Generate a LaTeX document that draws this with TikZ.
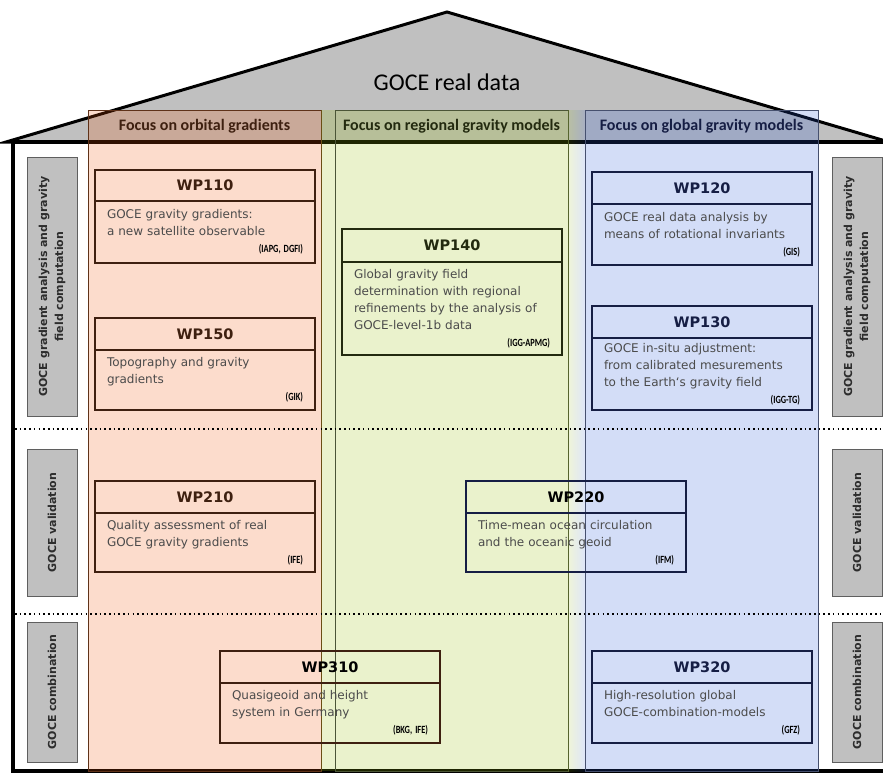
\documentclass[tikz,border=0pt]{standalone}
\usepackage{fontspec}
\setmainfont{DejaVu Sans}
\newfontfamily\carlito{Carlito}
\usetikzlibrary{positioning}

\definecolor{roofgray}{RGB}{192,192,192}
\definecolor{sidedraw}{RGB}{95,95,95}
\definecolor{sidetext}{RGB}{45,45,45}
\definecolor{bodytext}{RGB}{75,75,75}
\definecolor{orangeov}{RGB}{240,80,0}
\definecolor{greenov}{RGB}{150,190,0}
\definecolor{blueov}{RGB}{35,85,215}
\definecolor{orangeline}{RGB}{95,50,25}
\definecolor{greenline}{RGB}{75,85,55}
\definecolor{blueline}{RGB}{70,80,110}
\definecolor{wpbrown}{RGB}{62,32,16}
\definecolor{wpolive}{RGB}{35,42,15}
\definecolor{wpnavy}{RGB}{22,30,68}

\newcommand{\partnertag}[1]{\hfill{\carlito\bfseries\fontsize{11}{11}\selectfont\color{black}\scalebox{0.76}[1]{#1}}}

\begin{document}
\begin{tikzpicture}[x=1pt, y=-1pt,
    column/.style={line width=1pt, fill opacity=0.2},
    focus/.style={font=\carlito\bfseries\fontsize{16}{18}\selectfont},
    sidebox/.style={draw=sidedraw, fill=roofgray, line width=1pt, rotate=90, minimum height=50pt, align=center, text=sidetext, font=\bfseries\fontsize{11}{16}\selectfont},
    wphead/.style={draw, line width=2.2pt, outer sep=0pt, minimum width=220pt, font=\bfseries\fontsize{14.5}{16}\selectfont},
    wpbody/.style={draw, line width=2.2pt, outer sep=0pt, minimum width=220pt, text width=196pt, inner xsep=12pt, align=left, text=bodytext, font=\fontsize{12}{17}\selectfont},
    sepline/.style={line width=1.6pt, dash pattern=on 1.6pt off 3.1pt},
]
    \useasboundingbox (0,0) rectangle (883,774);

    \filldraw[fill=roofgray, line width=3pt] (6,142) -- (447,12) -- (889,142) -- cycle;
    \node[font=\carlito\fontsize{24}{28}\selectfont] (roof) at (447,82) {GOCE real data};

    \fill[white] (13,142) rectangle (890,771);
    \draw[line width=4pt] (890,142) -- (13,142) -- (13,771) -- (890,771);

    \filldraw[column, fill=orangeov, draw=orangeline, draw opacity=1] (88,110) rectangle (321,771);
    \fill[greenov, opacity=0.2] (321,110) rectangle (335,771);
    \filldraw[column, fill=greenov, draw=greenline, draw opacity=1] (335,110) rectangle (568,771);
    \shade[left color=greenov, right color=blueov, fill opacity=0.15] (568,110) rectangle (585,771);
    \filldraw[column, fill=blueov, draw=blueline, draw opacity=1] (585,110) rectangle (818,771);

    \node[focus, text=wpbrown] (focusorb) at (204.5,126) {Focus on orbital gradients};
    \node[focus, text=wpolive] (focusreg) at (451.5,126) {Focus on regional gravity models};
    \node[focus, text=wpnavy] (focusglob) at (701.5,126) {Focus on global gravity models};

    \draw[sepline] (15,429) -- (883,429);
    \draw[sepline] (15,614) -- (883,614);

    \node[sidebox, minimum width=259pt] (gradl) at (52,286.5) {GOCE gradient analysis and gravity\\field computation};
    \node[sidebox, minimum width=147pt] (validl) at (52,522.5) {GOCE validation};
    \node[sidebox, minimum width=140pt] (combl) at (52,692) {GOCE combination};
    \node[sidebox, minimum width=259pt] (gradr) at (857,286.5) {GOCE gradient analysis and gravity\\field computation};
    \node[sidebox, minimum width=147pt] (validr) at (857,522.5) {GOCE validation};
    \node[sidebox, minimum width=140pt] (combr) at (857,692) {GOCE combination};

    \node[wphead, draw=wpbrown, text=wpbrown, minimum height=31pt] (wp110) at (205,185.5) {WP110};
    \node[wpbody, draw=wpbrown, minimum height=62pt, below=0pt of wp110] (wp110t) {GOCE gravity gradients:\\a new satellite observable\\\partnertag{(IAPG, DGFI)}};

    \node[wphead, draw=wpbrown, text=wpbrown, minimum height=32pt] (wp150) at (205,334) {WP150};
    \node[wpbody, draw=wpbrown, minimum height=60pt, below=0pt of wp150] (wp150t) {Topography and gravity\\gradients\\\partnertag{(GIK)}};

    \node[wphead, draw=wpolive, text=wpolive, minimum height=33pt] (wp140) at (452,245.5) {WP140};
    \node[wpbody, draw=wpolive, minimum height=93pt, below=0pt of wp140] (wp140t) {Global gravity field\\determination with regional\\refinements by the analysis of\\GOCE-level-1b data\\\partnertag{(IGG-APMG)}};

    \node[wphead, draw=wpnavy, text=wpnavy, minimum height=32pt] (wp120) at (702,188) {WP120};
    \node[wpbody, draw=wpnavy, minimum height=61pt, below=0pt of wp120] (wp120t) {GOCE real data analysis by\\means of rotational invariants\\\partnertag{(GIS)}};

    \node[wphead, draw=wpnavy, text=wpnavy, minimum height=32pt] (wp130) at (702,322) {WP130};
    \node[wpbody, draw=wpnavy, minimum height=72pt, below=0pt of wp130] (wp130t) {GOCE in-situ adjustment:\\from calibrated mesurements\\to the Earth‘s gravity field\\\partnertag{(IGG-TG)}};

    \node[wphead, draw=wpbrown, text=wpbrown, minimum height=32pt] (wp210) at (205,497) {WP210};
    \node[wpbody, draw=wpbrown, minimum height=59pt, below=0pt of wp210] (wp210t) {Quality assessment of real\\GOCE gravity gradients\\\partnertag{(IFE)}};

    \node[wphead, draw=wpnavy, text=black, minimum height=32pt] (wp220) at (576,497) {WP220};
    \node[wpbody, draw=wpnavy, minimum height=59pt, below=0pt of wp220] (wp220t) {Time-mean ocean circulation\\and the oceanic geoid\\\partnertag{(IFM)}};

    \node[wphead, draw=wpbrown, text=black, minimum height=32pt] (wp310) at (330,667) {WP310};
    \node[wpbody, draw=wpbrown, minimum height=60pt, below=0pt of wp310] (wp310t) {Quasigeoid and height\\system in Germany\\\partnertag{(BKG, IFE)}};

    \node[wphead, draw=wpnavy, text=wpnavy, minimum height=32pt] (wp320) at (702,667) {WP320};
    \node[wpbody, draw=wpnavy, minimum height=60pt, below=0pt of wp320] (wp320t) {High-resolution global\\GOCE-combination-models\\\partnertag{(GFZ)}};
\end{tikzpicture}
\end{document}
